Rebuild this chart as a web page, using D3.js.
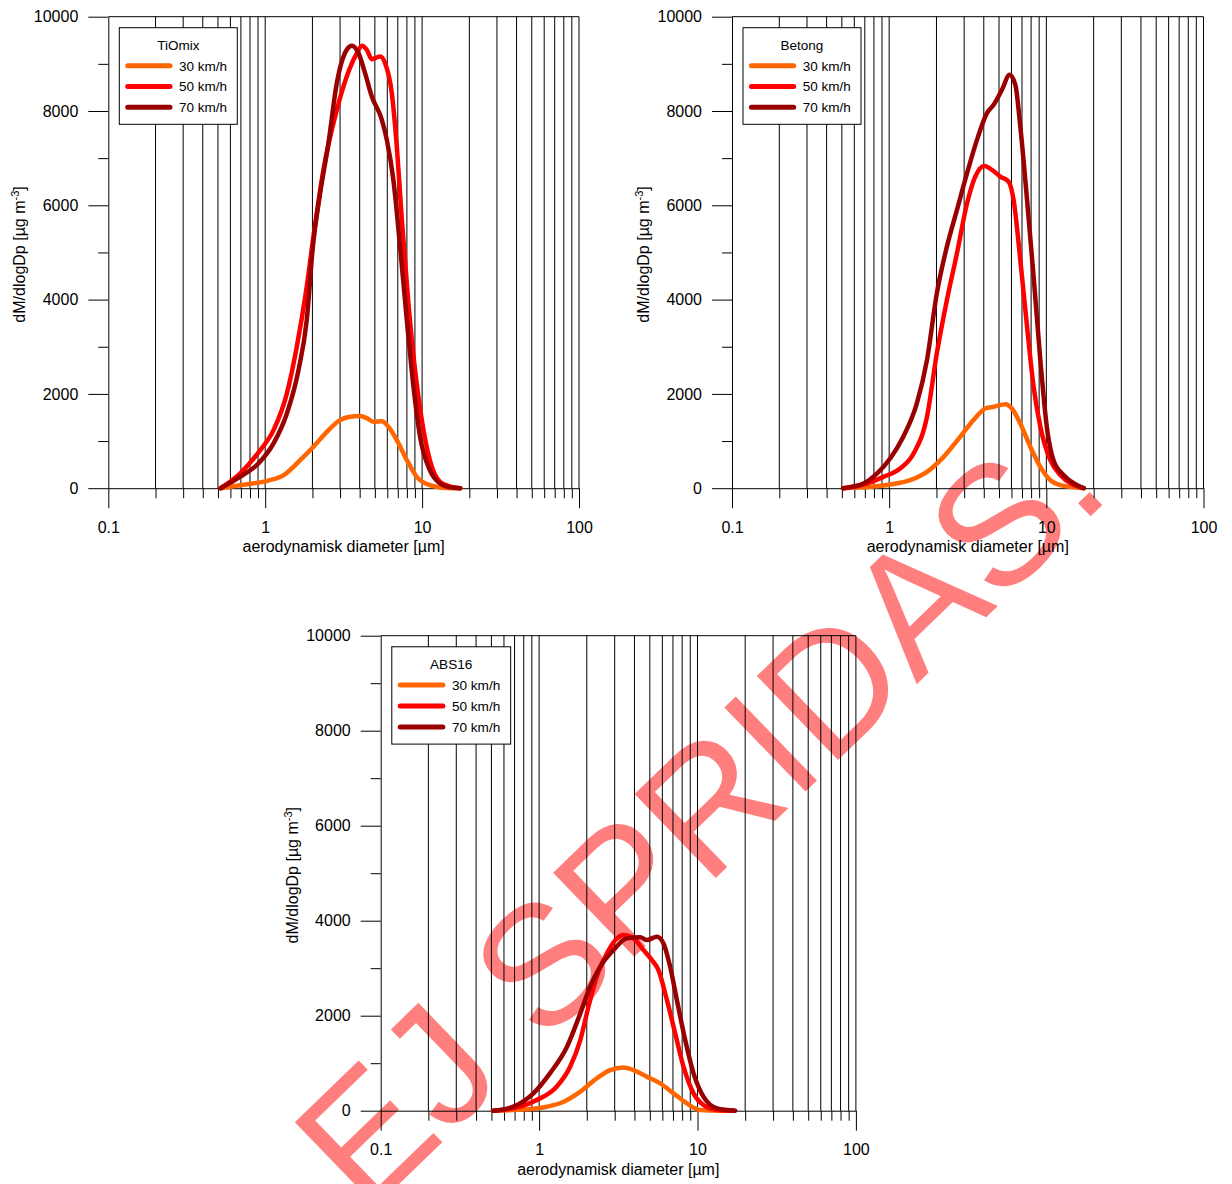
<!DOCTYPE html>
<html>
<head>
<meta charset="utf-8">
<script src="https://cdn.jsdelivr.net/npm/d3@7"></script>
<style>
  body { margin: 0; background: #fff; }
  text { font-family: Arial, "Liberation Sans", sans-serif; }
</style>
</head>
<body>
<div id="chart"></div>
<script>
// ---------------------------
// DATA
// ---------------------------
const speeds = ["30 km/h", "50 km/h", "70 km/h"];
const colors = ["#ff6600", "#ff0000", "#990000"];
const xMajor = [0.1, 1, 10, 100];
const yMajor = [0, 2000, 4000, 6000, 8000, 10000];
const yMinor = [1000, 3000, 5000, 7000, 9000];

// [diameter µm, dM/dlogDp]
const tiomix30 = [[0.52,0],[0.69,64],[1.03,156],[1.31,276],[1.67,594],[2.03,878],[2.47,1196],[3.0,1444],[3.48,1514],[4.03,1529],[4.44,1486],[4.89,1408],[5.54,1420],[6.1,1302],[6.9,1019],[8.0,594],[9.25,241],[11.2,64],[13.5,10],[17.5,0]];
const tiomix50 = [[0.52,0],[0.69,311],[0.93,807],[1.13,1231],[1.375,2010],[1.59,3000],[1.84,4274],[2.03,5336],[2.35,6751],[2.86,8025],[3.31,8733],[3.84,9228],[4.13,9384],[4.44,9299],[4.78,9100],[5.4,9157],[5.81,9015],[6.41,8379],[6.9,7246],[7.43,5690],[8.18,3921],[9.02,2505],[9.96,1444],[11.2,594],[13.0,134],[15.1,35],[17.5,0]];
const tiomix70 = [[0.52,0],[0.69,240],[0.905,524],[1.13,949],[1.375,1585],[1.63,2505],[1.84,3567],[2.01,5100],[2.24,6256],[2.53,7317],[2.86,8591],[3.31,9299],[3.57,9384],[3.93,9228],[4.33,8803],[4.78,8308],[5.54,7813],[5.96,7388],[6.56,6539],[7.24,5123],[7.99,3567],[8.81,2151],[9.71,1090],[11.2,382],[13.0,100],[15.1,20],[17.5,0]];

const betong30 = [[0.51,0],[0.76,28],[1.015,78],[1.36,170],[1.74,346],[2.22,665],[2.83,1090],[3.44,1444],[4.09,1691],[4.62,1727],[5.48,1783],[6.04,1691],[6.83,1373],[7.91,878],[9.16,453],[10.6,170],[12.3,64],[17.3,0]];
const betong50 = [[0.51,0],[0.686,78],[0.92,241],[1.175,418],[1.43,736],[1.74,1514],[2.01,2859],[2.33,3991],[2.7,4982],[3.13,6043],[3.53,6610],[4.03,6836],[4.51,6751],[5.09,6610],[5.75,6503],[6.19,6114],[6.83,4840],[7.54,3425],[8.3,2151],[9.16,1302],[10.6,594],[12.3,276],[17.3,0]];
const betong70 = [[0.51,0],[0.686,100],[0.835,311],[1.015,630],[1.23,1090],[1.5,1797],[1.74,2717],[2.01,4133],[2.33,5123],[2.7,5902],[3.13,6680],[3.62,7388],[4.19,7954],[4.62,8131],[5.22,8450],[5.84,8768],[6.35,8556],[6.83,7671],[7.54,6114],[8.3,4487],[9.16,2717],[10.07,1302],[11.1,594],[12.9,276],[15.0,100],[17.3,0]];

const abs30 = [[0.514,0],[0.836,28],[1.12,84],[1.43,189],[1.82,400],[2.31,681],[2.81,856],[3.41,912],[3.94,856],[4.79,716],[5.82,575],[7.06,365],[8.57,154],[10.4,15],[14,0],[17,0]];
const abs50 = [[0.514,0],[0.688,49],[0.967,225],[1.29,505],[1.57,926],[1.82,1488],[2.05,2189],[2.31,2821],[2.68,3312],[3.1,3628],[3.41,3698],[3.94,3628],[4.56,3382],[5.15,3172],[5.67,2961],[6.41,2330],[7.23,1628],[8.16,926],[9.44,365],[10.9,119],[13.3,15],[17,0]];
const abs70 = [[0.514,0],[0.688,84],[0.92,365],[1.17,786],[1.5,1347],[1.82,2049],[2.1,2610],[2.43,3031],[2.95,3382],[3.58,3628],[4.35,3649],[4.79,3593],[5.54,3663],[6.1,3522],[6.72,3031],[7.41,2330],[8.36,1488],[9.44,786],[10.9,295],[13.3,49],[17.3,0]];

// ---------------------------
// SETUP
// ---------------------------
const width = 1232, height = 1184;
const svg = d3.select("#chart").append("svg")
  .attr("width", width)
  .attr("height", height);

// watermark sits below the charts
svg.append("text")
  .attr("transform", "translate(366,1216) rotate(-44)")
  .attr("font-size", 170)
  .attr("fill", "#ff0000")
  .attr("fill-opacity", 0.5)
  .text("EJ SPRIDAS.");

const panels = [
  { title: "TiOmix", series: [tiomix30, tiomix50, tiomix70], left: 108.3, right: 579, top: 16.7, bottom: 488.2 },
  { title: "Betong", series: [betong30, betong50, betong70], left: 732, right: 1203.5, top: 16.7, bottom: 488.2 },
  { title: "ABS16", series: [abs30, abs50, abs70], left: 380.7, right: 855.9, top: 635.7, bottom: 1110.7 }
];

// minor decade values 0.2..0.9, 2..9, 20..90
const xMinor = [];
[0.1, 1, 10].forEach(dec => { for (let k = 2; k <= 9; k++) xMinor.push(+(dec * k).toPrecision(3)); });

panels.forEach(drawPanel);

function drawPanel(p) {
  const g = svg.append("g");

  const x = d3.scaleLog().domain([0.1, 100]).range([p.left, p.right]);
  const y = d3.scaleLinear().domain([0, 10000]).range([p.bottom, p.top]);

  // vertical grid
  g.append("g").selectAll("line")
    .data(xMinor.concat([1, 10, 100]))
    .enter().append("line")
    .attr("x1", d => x(d)).attr("x2", d => x(d))
    .attr("y1", p.top).attr("y2", p.bottom)
    .attr("stroke", "#000")
    .attr("stroke-width", 1);

  // top frame
  g.append("line")
    .attr("x1", p.left).attr("x2", p.right)
    .attr("y1", p.top).attr("y2", p.top)
    .attr("stroke", "#000");

  // y axis
  const yAxis = d3.axisLeft(y)
    .tickValues(yMajor)
    .tickSize(20)
    .tickSizeOuter(0)
    .tickPadding(10)
    .tickFormat(d3.format("d"));
  const ya = g.append("g")
    .attr("transform", `translate(${p.left},0)`)
    .call(yAxis);
  ya.selectAll("text").attr("font-size", 16).attr("font-family", null);

  g.append("g")
    .attr("transform", `translate(${p.left},0)`)
    .call(d3.axisLeft(y).tickValues(yMinor).tickSize(10).tickSizeOuter(0).tickFormat(""))
    .select(".domain").remove();

  // x axis
  const xa = g.append("g")
    .attr("transform", `translate(0,${p.bottom})`)
    .call(d3.axisBottom(x).tickValues(xMajor).tickSize(20).tickSizeOuter(0).tickPadding(13).tickFormat(d => d));
  xa.selectAll("text").attr("font-size", 16).attr("font-family", null);

  g.append("g")
    .attr("transform", `translate(0,${p.bottom})`)
    .call(d3.axisBottom(x).tickValues(xMinor).tickSize(10).tickSizeOuter(0).tickFormat(""))
    .select(".domain").remove();

  svg.selectAll(".domain").attr("stroke", "#000");

  // axis labels
  g.append("text")
    .attr("x", (p.left + p.right) / 2)
    .attr("y", p.bottom + 64)
    .attr("text-anchor", "middle")
    .attr("font-size", 16)
    .text("aerodynamisk diameter [µm]");

  const yl = g.append("text")
    .attr("transform", `translate(${p.left - 83},${(p.top + p.bottom) / 2 + 2}) rotate(-90)`)
    .attr("text-anchor", "middle")
    .attr("font-size", 16);
  yl.append("tspan").text("dM/dlogDp [µg m");
  yl.append("tspan").attr("font-size", 11).attr("dy", -6).text("-3");
  yl.append("tspan").attr("dy", 6).text("]");

  // curves
  const line = d3.line()
    .x(d => x(d[0]))
    .y(d => y(d[1]))
    .curve(d3.curveMonotoneX);

  g.append("g").selectAll("path")
    .data(p.series)
    .enter().append("path")
    .attr("d", line)
    .attr("fill", "none")
    .attr("stroke", (d, i) => colors[i])
    .attr("stroke-width", 4.5)
    .attr("stroke-linejoin", "round")
    .attr("stroke-linecap", "round");

  // legend
  const s = (p.bottom - p.top) / 471.5;
  const lx = p.left + 11 * s, ly = p.top + 11 * s;
  const lg = g.append("g").attr("transform", `translate(${lx},${ly}) scale(${s})`);
  lg.append("rect")
    .attr("width", 118).attr("height", 96.6)
    .attr("fill", "#fff")
    .attr("stroke", "#000");
  lg.append("text")
    .attr("x", 59).attr("y", 22)
    .attr("text-anchor", "middle")
    .attr("font-size", 13.5)
    .text(p.title);
  speeds.forEach((name, i) => {
    const yy = 38 + i * 20.8;
    lg.append("line")
      .attr("x1", 8.4).attr("x2", 50.7)
      .attr("y1", yy).attr("y2", yy)
      .attr("stroke", colors[i])
      .attr("stroke-width", 5)
      .attr("stroke-linecap", "round");
    lg.append("text")
      .attr("x", 59.7).attr("y", yy + 5)
      .attr("font-size", 13.5)
      .text(name);
  });
}
</script>
</body>
</html>
